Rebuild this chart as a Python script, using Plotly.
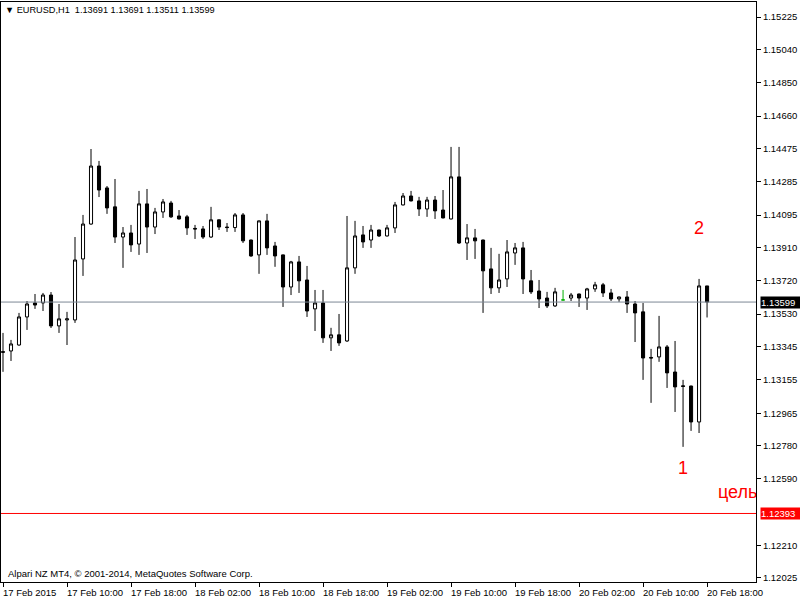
import plotly.graph_objects as go
import pandas as pd

# ---------------- data ----------------
bar_times = pd.date_range("2015-02-17 02:00", periods=89, freq="h")

opens = [1.13316, 1.13320, 1.13354, 1.13514, 1.13594, 1.13594, 1.13639, 1.13463, 1.13497, 1.13497,
         1.13845, 1.14044, 1.14375, 1.14250, 1.14142, 1.13970, 1.13993, 1.13930, 1.14159, 1.14027,
         1.14113, 1.14164, 1.14090, 1.14085, 1.14019, 1.14016, 1.13970, 1.14068, 1.14027, 1.14024,
         1.14096, 1.13953, 1.13868, 1.14062, 1.13919, 1.13868, 1.13685, 1.13828, 1.13725, 1.13560,
         1.13594, 1.13395, 1.13412, 1.13377, 1.13794, 1.13982, 1.13953, 1.14010, 1.13976, 1.14022,
         1.14153, 1.14204, 1.14176, 1.14130, 1.14181, 1.14124, 1.14073, 1.14313, 1.13936, 1.13965,
         1.13953, 1.13788, 1.13680, 1.13731, 1.13879, 1.13908, 1.13720, 1.13662, 1.13622, 1.13577,
         1.13611, 1.13622, 1.13645, 1.13622, 1.13674, 1.13697, 1.13651, 1.13617, 1.13628, 1.13588,
         1.13543, 1.13283, 1.13286, 1.13343, 1.13200, 1.13121, 1.13120, 1.12915, 1.13691]
highs = [1.13423, 1.13383, 1.13537, 1.13605, 1.13645, 1.13651, 1.13656, 1.13588, 1.13543, 1.13970,
         1.14096, 1.14472, 1.14404, 1.14261, 1.14301, 1.14027, 1.14039, 1.14233, 1.14244, 1.14136,
         1.14187, 1.14176, 1.14124, 1.14096, 1.14039, 1.14033, 1.14142, 1.14070, 1.14050, 1.14107,
         1.14107, 1.13955, 1.14064, 1.14102, 1.13942, 1.13870, 1.13834, 1.13862, 1.13805, 1.13668,
         1.13668, 1.13452, 1.13531, 1.14090, 1.14062, 1.14033, 1.14039, 1.14012, 1.14039, 1.14170,
         1.14221, 1.14233, 1.14199, 1.14199, 1.14204, 1.14238, 1.14484, 1.14484, 1.14044, 1.14016,
         1.13955, 1.13908, 1.13874, 1.13953, 1.13936, 1.13942, 1.13782, 1.13725, 1.13657, 1.13680,
         1.13668, 1.13651, 1.13647, 1.13680, 1.13714, 1.13708, 1.13674, 1.13630, 1.13662, 1.13605,
         1.13594, 1.13332, 1.13520, 1.13354, 1.13377, 1.13155, 1.13122, 1.13731, 1.13691]
lows = [1.13201, 1.13263, 1.13350, 1.13440, 1.13560, 1.13548, 1.13451, 1.13423, 1.13354, 1.13480,
        1.13748, 1.14040, 1.14198, 1.14102, 1.13936, 1.13794, 1.13885, 1.13868, 1.13879, 1.13987,
        1.14079, 1.14079, 1.14070, 1.13982, 1.13959, 1.13959, 1.13965, 1.14010, 1.13999, 1.13999,
        1.13936, 1.13857, 1.13760, 1.13868, 1.13800, 1.13571, 1.13639, 1.13651, 1.13514, 1.13434,
        1.13366, 1.13320, 1.13349, 1.13372, 1.13760, 1.13908, 1.13908, 1.13970, 1.13973, 1.13993,
        1.14150, 1.14173, 1.14090, 1.14085, 1.14073, 1.14076, 1.14070, 1.13930, 1.13839, 1.13845,
        1.13537, 1.13645, 1.13651, 1.13685, 1.13811, 1.13645, 1.13645, 1.13565, 1.13565, 1.13571,
        1.13611, 1.13605, 1.13571, 1.13554, 1.13657, 1.13628, 1.13605, 1.13600, 1.13537, 1.13371,
        1.13155, 1.13024, 1.13258, 1.13109, 1.12972, 1.12773, 1.12864, 1.12852, 1.13511]
closes = [1.13313, 1.13360, 1.13514, 1.13588, 1.13582, 1.13639, 1.13463, 1.13503, 1.13503, 1.13839,
          1.14044, 1.14375, 1.14238, 1.14136, 1.13970, 1.13993, 1.13925, 1.14159, 1.14027, 1.14113,
          1.14170, 1.14085, 1.14073, 1.14022, 1.14016, 1.13970, 1.14068, 1.14027, 1.14024, 1.14096,
          1.13948, 1.13862, 1.14062, 1.13908, 1.13862, 1.13685, 1.13828, 1.13720, 1.13548, 1.13594,
          1.13395, 1.13412, 1.13366, 1.13794, 1.13976, 1.13942, 1.14010, 1.13976, 1.14022, 1.14153,
          1.14204, 1.14176, 1.14130, 1.14181, 1.14119, 1.14079, 1.14313, 1.13936, 1.13965, 1.13948,
          1.13777, 1.13680, 1.13725, 1.13885, 1.13908, 1.13731, 1.13657, 1.13617, 1.13577, 1.13657,
          1.13611, 1.13639, 1.13622, 1.13674, 1.13697, 1.13651, 1.13617, 1.13628, 1.13588, 1.13537,
          1.13280, 1.13280, 1.13343, 1.13195, 1.13115, 1.13118, 1.12915, 1.13691, 1.13599]

x_tick_times = ["2015-02-17 02:00", "2015-02-17 10:00", "2015-02-17 18:00", "2015-02-18 02:00",
                "2015-02-18 10:00", "2015-02-18 18:00", "2015-02-19 02:00", "2015-02-19 10:00",
                "2015-02-19 18:00", "2015-02-20 02:00", "2015-02-20 10:00", "2015-02-20 18:00"]
x_tick_labels = ["17 Feb 2015", "17 Feb 10:00", "17 Feb 18:00", "18 Feb 02:00", "18 Feb 10:00",
                 "18 Feb 18:00", "19 Feb 02:00", "19 Feb 10:00", "19 Feb 18:00", "20 Feb 02:00",
                 "20 Feb 10:00", "20 Feb 18:00"]
y_tick_vals = [1.15225, 1.15040, 1.14850, 1.14660, 1.14475, 1.14285, 1.14095, 1.13910, 1.13720,
               1.13530, 1.13345, 1.13155, 1.12965, 1.12780, 1.12590, 1.12210, 1.12025]

symbol_title = "EURUSD,H1"
current_price = 1.13599
target_price = 1.12393
copyright_text = "Alpari NZ MT4, © 2001-2014, MetaQuotes Software Corp."

# ---------------- figure ----------------
FONT = "Liberation Sans, Arial, sans-serif"
FS = 9.5
RED = "#ff0000"
fig = go.Figure()

t0 = bar_times[0]
x_range = [t0 - pd.Timedelta(minutes=15), t0 + pd.Timedelta(minutes=int(94.125 * 60))]

# horizontal price lines (drawn as line traces through the axes)
fig.add_trace(go.Scatter(x=x_range, y=[current_price, current_price], mode="lines",
                         line=dict(color="#7d8794", width=1), showlegend=False, hoverinfo="skip"))
fig.add_trace(go.Scatter(x=x_range, y=[target_price, target_price], mode="lines",
                         line=dict(color=RED, width=1), showlegend=False, hoverinfo="skip"))

body = [i for i in range(len(opens)) if opens[i] != closes[i]]
flat = [i for i in range(len(opens)) if opens[i] == closes[i]]

fig.add_trace(go.Candlestick(
    x=[bar_times[i] for i in body],
    open=[opens[i] for i in body], high=[highs[i] for i in body],
    low=[lows[i] for i in body], close=[closes[i] for i in body],
    increasing=dict(fillcolor="white", line=dict(color="black", width=1)),
    decreasing=dict(fillcolor="black", line=dict(color="black", width=1)),
    whiskerwidth=0, showlegend=False, hoverinfo="skip"))

fig.add_trace(go.Candlestick(
    x=[bar_times[i] for i in flat],
    open=[opens[i] for i in flat], high=[highs[i] for i in flat],
    low=[lows[i] for i in flat], close=[closes[i] for i in flat],
    increasing=dict(fillcolor="#00b000", line=dict(color="#00b000", width=1)),
    decreasing=dict(fillcolor="#00b000", line=dict(color="#00b000", width=1)),
    whiskerwidth=0, showlegend=False, hoverinfo="skip"))

# "цель" target text, clipped by the plot area
fig.add_trace(go.Scatter(
    x=[bar_times[-1] + pd.Timedelta(hours=1, minutes=22)], y=[1.12508], mode="text",
    text=["цель"], textposition="middle right", cliponaxis=True,
    textfont=dict(family=FONT, size=18, color=RED), showlegend=False,
    hoverinfo="skip"))

fig.update_layout(
    width=800, height=600, autosize=False,
    margin=dict(l=1, r=44, t=2, b=18, pad=0),
    plot_bgcolor="white", paper_bgcolor="white",
    boxgap=0.45, showlegend=False,
    font=dict(family=FONT, size=FS, color="black"),
    xaxis=dict(type="date", range=x_range, rangeslider=dict(visible=False),
               showgrid=False, zeroline=False, showline=True, mirror=True,
               linecolor="black", linewidth=1,
               tickvals=x_tick_times, ticks="outside", ticklen=4, tickcolor="black",
               showticklabels=False),
    yaxis=dict(side="right", range=[1.120021, 1.153106], showgrid=False, zeroline=False,
               showline=True, mirror=True, linecolor="black", linewidth=1,
               tickvals=y_tick_vals, ticktext=[f"{v:.5f}" for v in y_tick_vals],
               ticks="outside", ticklen=4, tickcolor="black",
               tickfont=dict(family=FONT, size=FS, color="black")),
)

ann = []
# price boxes on the axis
ann.append(dict(xref="paper", x=1, yref="y", y=current_price, xanchor="left", yanchor="middle",
                xshift=4, text=f"{current_price:.5f}", showarrow=False, bgcolor="black",
                font=dict(family=FONT, size=FS, color="white"), width=40, height=11,
                align="left", borderpad=0))
ann.append(dict(xref="paper", x=1, yref="y", y=target_price, xanchor="left", yanchor="middle",
                xshift=4, text=f"{target_price:.5f}", showarrow=False, bgcolor=RED,
                font=dict(family=FONT, size=FS, color="white"), width=40, height=11,
                align="left", borderpad=0))
# date labels (left-aligned at tick)
for t, lab in zip(x_tick_times, x_tick_labels):
    ann.append(dict(xref="x", x=t, yref="paper", y=0, xanchor="left", yanchor="top",
                    yshift=-3, xshift=-2, text=lab, showarrow=False,
                    font=dict(family=FONT, size=FS, color="black")))
# header
header = "▼\u00a0" + symbol_title + "\u00a0\u00a0" + " ".join(f"{v:.5f}" for v in
         [opens[-1], highs[-1], lows[-1], closes[-1]])
ann.append(dict(xref="paper", x=0, yref="paper", y=1, xanchor="left", yanchor="top",
                xshift=2, yshift=-1, text=header, showarrow=False,
                font=dict(family=FONT, size=9.2, color="black")))
ann.append(dict(xref="paper", x=0, yref="paper", y=0, xanchor="left", yanchor="bottom",
                xshift=5, yshift=1, text=copyright_text, showarrow=False,
                font=dict(family=FONT, size=FS, color="black")))
# wave labels
ann.append(dict(xref="x", x=bar_times[87], yref="y", y=1.14022, text="2", showarrow=False,
                font=dict(family=FONT, size=18, color=RED)))
ann.append(dict(xref="x", x=bar_times[85], yref="y", y=1.12652, text="1", showarrow=False,
                font=dict(family=FONT, size=18, color=RED)))
fig.update_layout(annotations=ann)

fig.write_html("out.html", config={"displayModeBar": False},
               post_script="document.body.style.margin='0px';")
